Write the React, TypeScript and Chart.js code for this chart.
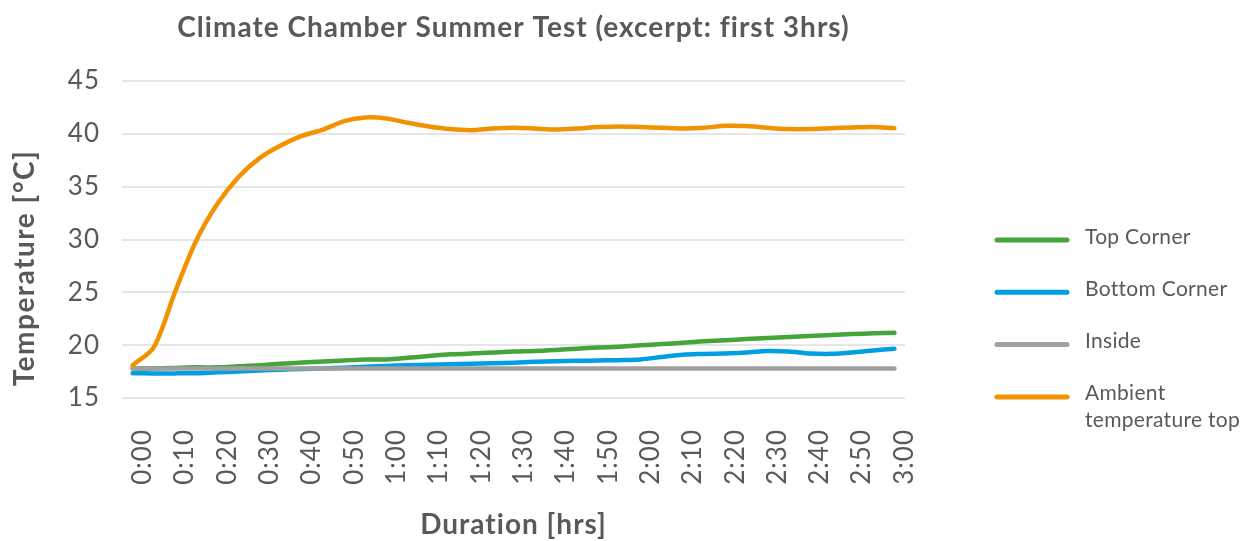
import React, { useEffect, useRef } from "react";
import { Chart, registerables } from "chart.js";

Chart.register(...registerables);

const chartTitle = "Climate Chamber Summer Test (excerpt: first 3hrs)";
const xAxisTitle = "Duration [hrs]";
const yAxisTitle = "Temperature [°C]";

const categories = [
  "0:00", "0:05", "0:10", "0:15", "0:20", "0:25", "0:30", "0:35", "0:40", "0:45",
  "0:50", "0:55", "1:00", "1:05", "1:10", "1:15", "1:20", "1:25", "1:30", "1:35",
  "1:40", "1:45", "1:50", "1:55", "2:00", "2:05", "2:10", "2:15", "2:20", "2:25",
  "2:30", "2:35", "2:40", "2:45", "2:50", "2:55", "3:00",
];

const seriesNames = ["Top Corner", "Bottom Corner", "Inside", "Ambient temperature top"];
const seriesColors = ["#43a53a", "#009fe3", "#a0a0a0", "#f39200"];

const topCorner = [
  17.8, 17.8, 17.85, 17.9, 17.9, 18.0, 18.1, 18.25, 18.35, 18.45,
  18.55, 18.65, 18.65, 18.8, 18.97, 19.13, 19.2, 19.3, 19.4, 19.45,
  19.55, 19.67, 19.77, 19.86, 19.99, 20.1, 20.23, 20.36, 20.46, 20.58,
  20.68, 20.77, 20.87, 20.96, 21.05, 21.12, 21.18,
];

const bottomCorner = [
  17.35, 17.33, 17.33, 17.35, 17.43, 17.5, 17.6, 17.68, 17.74, 17.8,
  17.87, 17.96, 18.03, 18.1, 18.15, 18.2, 18.23, 18.28, 18.34, 18.42,
  18.48, 18.52, 18.55, 18.58, 18.65, 18.88, 19.1, 19.17, 19.22, 19.3,
  19.45, 19.4, 19.22, 19.18, 19.3, 19.5, 19.67,
];

const inside = [
  17.8, 17.8, 17.8, 17.8, 17.8, 17.8, 17.8, 17.8, 17.8, 17.8,
  17.8, 17.8, 17.8, 17.8, 17.8, 17.8, 17.8, 17.8, 17.8, 17.8,
  17.8, 17.8, 17.8, 17.8, 17.8, 17.8, 17.8, 17.8, 17.8, 17.8,
  17.8, 17.8, 17.8, 17.8, 17.8, 17.8, 17.8,
];

const ambientTop = [
  18.1, 19.8, 25.0, 29.85, 33.35, 35.9, 37.7, 38.9, 39.8, 40.4,
  41.2, 41.55, 41.45, 41.05, 40.7, 40.45, 40.35, 40.5, 40.57, 40.5,
  40.4, 40.5, 40.64, 40.7, 40.64, 40.57, 40.5, 40.57, 40.76, 40.73,
  40.57, 40.45, 40.45, 40.54, 40.6, 40.64, 40.54,
];

const seriesValues = [topCorner, bottomCorner, inside, ambientTop];
const drawOrder = [3, 2, 1, 0];

const TEXT = "#595959";
const FONT = "Lato";

const customText = {
  id: "customText",
  beforeDraw(chart: any) {
    (chart.ctx as any).letterSpacing = "1px";
  },
  afterDraw(chart: any) {
    const ctx: any = chart.ctx;
    const area = chart.chartArea;
    // y axis title
    ctx.save();
    ctx.letterSpacing = "1.5px";
    ctx.fillStyle = TEXT;
    ctx.font = `bold 28px ${FONT}`;
    ctx.textAlign = "center";
    ctx.textBaseline = "middle";
    ctx.translate(25, 268);
    ctx.rotate(-Math.PI / 2);
    ctx.fillText(yAxisTitle, 0, 0);
    ctx.restore();

    // legend
    ctx.save();
    ctx.letterSpacing = "0.3px";
    ctx.font = `21px ${FONT}`;
    ctx.fillStyle = TEXT;
    ctx.textAlign = "left";
    ctx.textBaseline = "alphabetic";
    const lineX0 = area.right + 92;
    const lineX1 = lineX0 + 70;
    const textX = lineX1 + 18;
    const maxW = 165;
    chart.data.datasets.forEach((ds: any, i: number) => {
      const y = 240 + 52.3 * i;
      ctx.strokeStyle = ds.borderColor;
      ctx.lineWidth = 5;
      ctx.lineCap = "round";
      ctx.beginPath();
      ctx.moveTo(lineX0, y);
      ctx.lineTo(lineX1, y);
      ctx.stroke();
      const words = String(ds.label).split(" ");
      const lines: string[] = [];
      let cur = "";
      for (const w of words) {
        const test = cur ? cur + " " + w : w;
        if (cur && ctx.measureText(test).width > maxW) {
          lines.push(cur);
          cur = w;
        } else cur = test;
      }
      if (cur) lines.push(cur);
      lines.forEach((ln, k) => ctx.fillText(ln, textX, y + 3.5 + 27 * k));
    });
    ctx.restore();
    ctx.letterSpacing = "0px";
  },
};

export default function App() {
  const ref = useRef<HTMLCanvasElement>(null);
  useEffect(() => {
    document.body.style.margin = "0";
    const chart = new Chart(ref.current!, {
      type: "line",
      data: {
        labels: categories,
        datasets: seriesNames.map((name, i) => ({
          label: name,
          data: seriesValues[i],
          borderColor: seriesColors[i],
          backgroundColor: seriesColors[i],
          borderWidth: 4.5,
          borderCapStyle: "round" as const,
          borderJoinStyle: "round" as const,
          pointRadius: 0,
          tension: 0.3,
          fill: false,
          order: drawOrder[i],
        })),
      },
      options: {
        responsive: false,
        animation: false,
        events: [],
        layout: { padding: { left: 0, right: 349, top: 0, bottom: 0 } },
        plugins: {
          legend: { display: false },
          tooltip: { enabled: false },
          title: {
            display: true,
            fullSize: false,
            text: chartTitle,
            color: TEXT,
            font: { family: FONT, size: 28, weight: "bold" },
            padding: { top: 11, bottom: 36.4 },
          },
        },
        scales: {
          x: {
            type: "category",
            offset: true,
            grid: { display: false, drawTicks: false },
            border: { display: false },
            ticks: {
              autoSkip: false,
              maxRotation: 90,
              minRotation: 90,
              padding: 31,
              labelOffset: 10,
              color: TEXT,
              font: { family: FONT, size: 26 },
              callback: (_v: any, idx: number) => (idx % 2 === 0 ? categories[idx] : null),
            },
            title: {
              display: true,
              text: xAxisTitle,
              color: TEXT,
              font: { family: FONT, size: 28, weight: "bold" },
              padding: { top: 0, bottom: -1 },
            },
            afterFit: (s: any) => {
              s.height = 143;
            },
          },
          y: {
            min: 15,
            max: 45,
            border: { display: false },
            grid: { color: "#e6e6e6", lineWidth: 2, drawTicks: false },
            ticks: {
              stepSize: 5,
              padding: 22,
              color: TEXT,
              font: { family: FONT, size: 26 },
            },
            afterFit: (s: any) => {
              s.width = 122;
            },
          },
        },
      },
      plugins: [customText],
    });
    return () => chart.destroy();
  }, []);
  return <canvas ref={ref} width={1254} height={541} />;
}
